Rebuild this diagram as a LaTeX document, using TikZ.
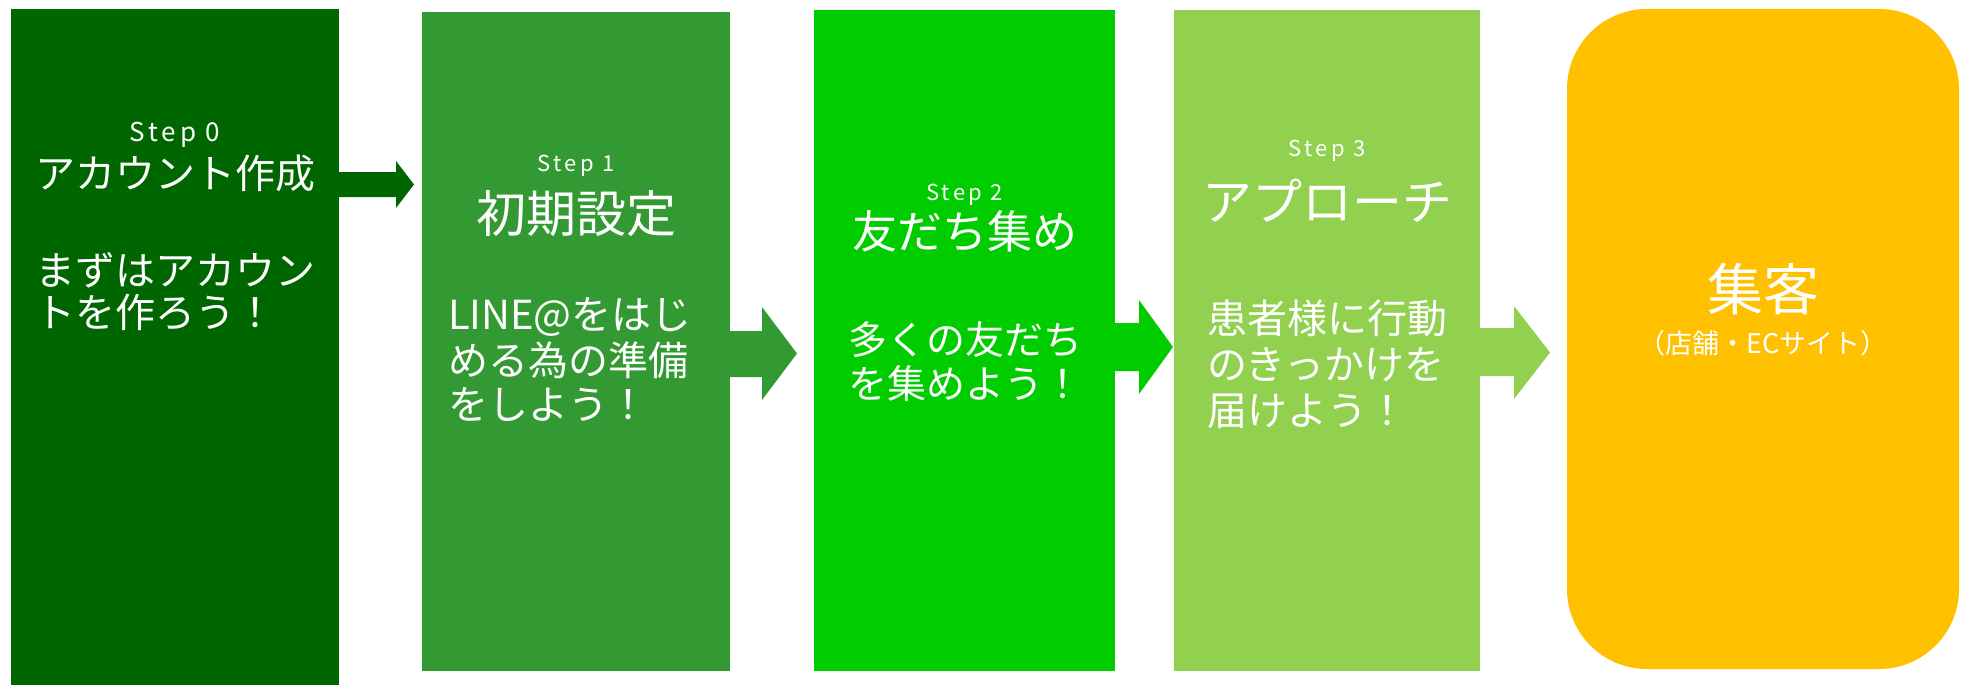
\documentclass[tikz,border=0pt]{standalone}
\usepackage{fontspec}
\setmainfont{Noto Sans CJK JP}
\newfontfamily\jpf{Noto Sans CJK JP}
\newfontfamily\stepf[LetterSpace=15]{Noto Sans CJK JP}
\definecolor{cA}{HTML}{006600}
\definecolor{cB}{HTML}{339933}
\definecolor{cC}{HTML}{00CC00}
\definecolor{cD}{HTML}{92D050}
\definecolor{cE}{HTML}{FFC000}
\begin{document}
\begin{tikzpicture}[x=1pt,y=-1pt,
  stepbox/.style={draw=none,inner sep=0pt,outer sep=0pt,rectangle},
  txt/.style={text=white,inner sep=0pt,outer sep=0pt},
  steplbl/.style={txt,anchor=base,font=\stepf\fontsize{#1pt}{#1pt}\selectfont},
  ttl/.style={txt,anchor=base,font=\jpf\fontsize{#1pt}{#1pt}\selectfont},
  bodyl/.style={txt,anchor=base west,font=\jpf\fontsize{#1pt}{#1pt}\selectfont},
]
\useasboundingbox (0,0) rectangle (1968,685);
% boxes
\node[stepbox,fill=cA,minimum width=328pt,minimum height=676pt] (b0) at (175,347) {};
\node[stepbox,fill=cB,minimum width=308pt,minimum height=659pt] (b1) at (576,341.5) {};
\node[stepbox,fill=cC,minimum width=301pt,minimum height=661pt] (b2) at (964.5,340.5) {};
\node[stepbox,fill=cD,minimum width=306pt,minimum height=661pt] (b3) at (1327,340.5) {};
\node[stepbox,fill=cE,minimum width=392pt,minimum height=660pt,rounded corners=80pt] (b4) at (1763,339) {};
% arrows
\fill[cA] (b0.east |- 0,172) -- (396,172) -- (396,161) -- (414,184.5) -- (396,208) -- (396,197) -- (b0.east |- 0,197) -- cycle;
\fill[cB] (b1.east |- 0,331) -- (762,331) -- (762,307) -- (797,353.5) -- (762,400) -- (762,377) -- (b1.east |- 0,377) -- cycle;
\fill[cC] (b2.east |- 0,323) -- (1139,323) -- (1139,300) -- (1173,347) -- (1139,394) -- (1139,371) -- (b2.east |- 0,371) -- cycle;
\fill[cD] (b3.east |- 0,328) -- (1514,328) -- (1514,306) -- (1550,352.5) -- (1514,399) -- (1514,376) -- (b3.east |- 0,376) -- cycle;
% box 0 text
\node[steplbl=26] (s0) at (175,141) {Step 0};
\node[ttl=40] (h0) at (175,188) {アカウント作成};
\node[bodyl=40] (t0a) at (35,285) {まずはアカウン};
\node[bodyl=40] (t0b) at (35,327) {トを作ろう！};
% box 1 text
\node[steplbl=22] (s1) at (576,171) {Step 1};
\node[ttl=50] (h1) at (576,232) {初期設定};
\node[bodyl=40] (t1a) at (448,329) {LINE@をはじ};
\node[bodyl=40] (t1b) at (448,375) {める為の準備};
\node[bodyl=40] (t1c) at (448,419) {をしよう！};
% box 2 text
\node[steplbl=22] (s2) at (964.5,200) {Step 2};
\node[ttl=45] (h2) at (964.5,248) {友だち集め};
\node[bodyl=39] (t2a) at (848,354) {多くの友だち};
\node[bodyl=39] (t2b) at (848,398) {を集めよう！};
% box 3 text
\node[steplbl=22] (s3) at (1327,156) {Step 3};
\node[ttl=50] (h3) at (1327,220) {アプローチ};
\node[bodyl=40] (t3a) at (1207,333) {患者様に行動};
\node[bodyl=40] (t3b) at (1207,379) {のきっかけを};
\node[bodyl=40] (t3c) at (1207,425) {届けよう！};
% box 4 text
\node[ttl=56] (h4) at (1763,310) {集客};
\node[ttl=27] (t4) at (1763,353) {（店舗・ECサイト）};
\end{tikzpicture}
\end{document}
